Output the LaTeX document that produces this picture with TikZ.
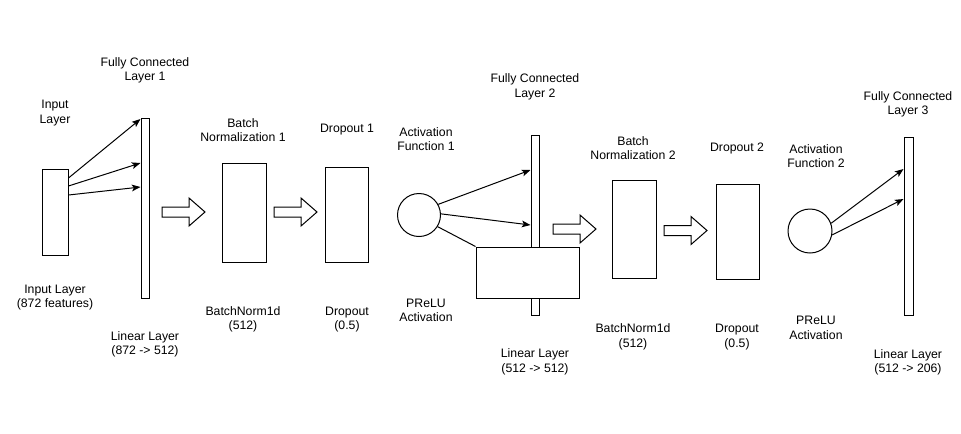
\documentclass[tikz,border=0pt]{standalone}
\usepackage{fontspec}
\setmainfont{Liberation Sans}
\usetikzlibrary{arrows.meta}

\tikzset{
  layer/.style={draw, rectangle, fill=white, line width=0.75pt, inner sep=0pt},
  actnode/.style={draw, circle, fill=white, line width=0.75pt, inner sep=0pt},
  lbl/.style={align=center, inner sep=0pt, font=\fontsize{9.2}{10.9}\selectfont},
  conn/.style={-{Stealth[length=6.5pt,width=5pt,inset=1.5pt]}, line width=0.75pt},
  bigarrow/.pic={
    \draw[line width=0.75pt, fill=white] (0,-5) -- (27,-5) -- (27,-14) -- (43,0)
      -- (27,14) -- (27,5) -- (0,5) -- cycle;
  }
}

\begin{document}
\begin{tikzpicture}[x=0.75pt,y=-0.75pt]
        \useasboundingbox (0,0) rectangle (961,433);

        \begin{scope}[every node/.style={layer}]
          \node[minimum width=19.5pt, minimum height=64.5pt]  (inp)   at (55,212)    {};
          \node[minimum width=6pt,    minimum height=135pt]   (fc1)   at (145,208)   {};
          \node[minimum width=33pt,   minimum height=74.25pt] (bn1)   at (244,212.5) {};
          \node[minimum width=32.25pt,minimum height=71.25pt] (drop1) at (346.5,214.5) {};
          \node[minimum width=6pt,    minimum height=135pt]   (fc2)   at (535,225)   {};
          \node[minimum width=77.25pt,minimum height=38.25pt] (lin2)  at (527.5,272.5) {};
          \node[minimum width=33pt,   minimum height=73.5pt]  (bn2)   at (634,229)   {};
          \node[minimum width=32.25pt,minimum height=71.25pt] (drop2) at (737.5,231.5) {};
          \node[minimum width=6.75pt, minimum height=133.5pt] (fc3)   at (908.5,226) {};
        \end{scope}

        \begin{scope}[every node/.style={actnode}]
          \node[minimum size=32.25pt] (act1) at (419,215) {};
          \node[minimum size=33pt]    (act2) at (810,231) {};
        \end{scope}

        \begin{scope}[every edge/.style={draw,conn}]
          \path ([yshift=25.5pt]inp.east)  edge ([yshift=66.75pt]fc1.west);
          \path ([yshift=19.5pt]inp.east)  edge ([yshift=33.75pt]fc1.west);
          \path ([yshift=12.75pt]inp.east) edge ([yshift=15.75pt]fc1.west);
          \path (act1.29) edge ([yshift=41.25pt]fc2.west);
          \path (act1.3)  edge (fc2.west);
          \path (act2.20)  edge ([yshift=42.75pt]fc3.west);
          \path (act2.-10) edge ([yshift=20.25pt]fc3.west);
        \end{scope}
        \draw[line width=0.75pt] (act1.-32) -- (lin2.north west);

        \pic at (162,212)   {bigarrow};
        \pic at (274,212)   {bigarrow};
        \pic at (553,229)   {bigarrow};
        \pic at (664,230.5) {bigarrow};

        \begin{scope}[every node/.style={lbl}]
          \node (t-fc1)   at (145,70.5)  {Fully Connected\\Layer 1};
          \node (t-inp)   at (55,113)    {Input\\Layer};
          \node (t-bn1)   at (243,130)   {Batch\\Normalization 1};
          \node (t-drop1) at (347,130)   {Dropout 1};
          \node (b-inp)   at (55,297.5)  {Input Layer\\(872 features)};
          \node (b-bn1)   at (243,319.5) {BatchNorm1d\\(512)};
          \node (b-drop1) at (347,319.5) {Dropout\\(0.5)};
          \node (b-fc1)   at (145,344.5) {Linear Layer\\(872 -> 512)};
          \node (t-fc2)   at (535,87)    {Fully Connected\\Layer 2};
          \node (t-act1)  at (426,139)   {Activation\\Function 1};
          \node (b-act1)  at (426,310.5) {PReLU\\Activation};
          \node (b-fc2)   at (535,362)   {Linear Layer\\(512 -> 512)};
          \node (t-bn2)   at (633,148)   {Batch\\Normalization 2};
          \node (t-drop2) at (737,148)   {Dropout 2};
          \node (b-bn2)   at (633,337)   {BatchNorm1d\\(512)};
          \node (b-drop2) at (737,337)   {Dropout\\(0.5)};
          \node (t-fc3)   at (908,104.5) {Fully Connected\\Layer 3};
          \node (t-act2)  at (816,156)   {Activation\\Function 2};
          \node (b-act2)  at (816,328)   {PReLU\\Activation};
          \node (b-fc3)   at (908,362.5) {Linear Layer\\(512 -> 206)};
        \end{scope}

      \end{tikzpicture}
\end{document}
